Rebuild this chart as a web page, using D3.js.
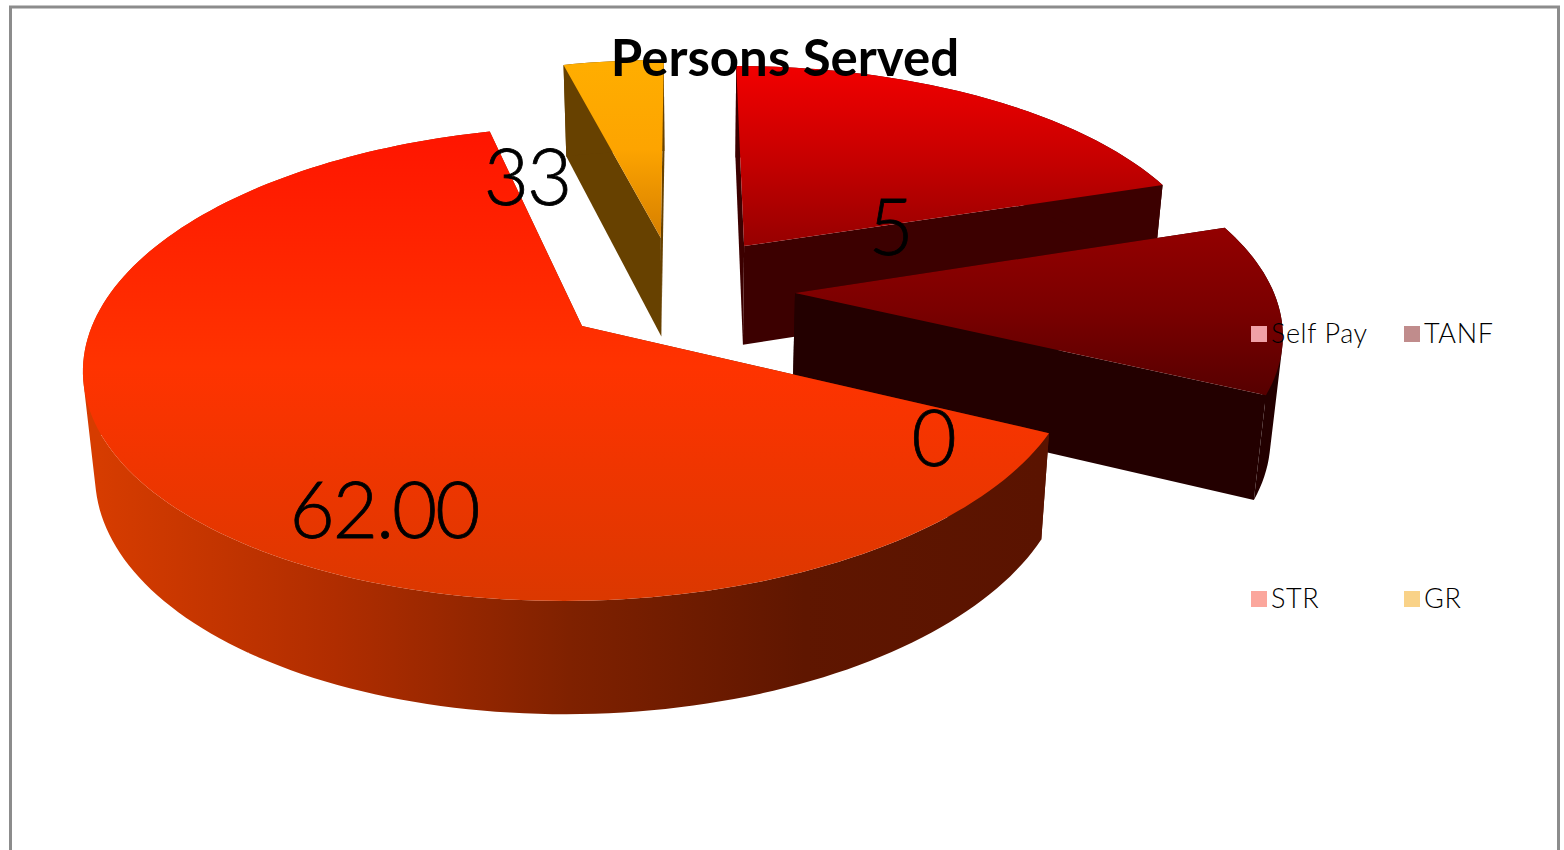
<!DOCTYPE html>
<html>
<head>
<meta charset="utf-8">
<script src="https://cdn.jsdelivr.net/npm/d3@7"></script>
<style>
html, body { margin: 0; padding: 0; background: #fff; overflow: hidden; }
text { font-family: Lato, "Open Sans", sans-serif; fill: #000; }
</style>
</head>
<body>
<svg id="vis"></svg>
<script>
// legend order, clockwise from 12 o'clock
const categories = ['Self Pay', 'TANF', 'STR', 'GR'];
// slice sizes (percent), the printed labels do not match them
const slice_shares = [20, 12.1, 63.9, 4.0];
const data_labels = ['5', '0', '62.00', '33'];
// how far each slice is pulled out, in pie radii
const explode_x = [0.338, 0.44, 0, 0.158];
const explode_y = [-0.365, -0.146, 0, -0.404];

const legend_colours = ['#f0a0a6', '#c08c8c', '#fba69c', '#f9d288'];
const top_colours = [['#f20000', '#c80000', '#960000'], ['#930000', '#7a0000', '#560000'], ['#ff1500', '#ff3300', '#db3800'], ['#ffae00', '#fda400', '#d67f00']];
const wall_colours = ['#3c0000', '#230000', '#6b1c00', '#674100'];

var width = 1564;
var height = 850;
var persp = 0.158;
var shear = -16; // the camera sits a little to the right of the pie

// top and bottom faces of the pie, unit disc to screen
var x_top = d3.scaleLinear().domain([0, 1]).range([582, 1072]);
var y_top = d3.scaleLinear().domain([0, 1]).range([326, 557.5]);
var x_bottom = d3.scaleLinear().domain([0, 1]).range([584, 1064]);
var y_bottom = d3.scaleLinear().domain([0, 1]).range([428, 669]);

function project(p, x_scale, y_scale) {
    var s = 1 / (1 - persp * p[1]);
    return [x_scale(p[0] * s) + shear * p[1] * s, y_scale(p[1] * s)];
}

function rimPoints(slice, i) {
    var n = Math.max(2, Math.ceil((slice.endAngle - slice.startAngle) * 40));
    return d3.range(n + 1).map(function(k) {
        var a = slice.startAngle + (slice.endAngle - slice.startAngle) * k / n;
        return [explode_x[i] + Math.sin(a), explode_y[i] - Math.cos(a)];
    });
}

// all quads in one path, wound the same way, so the wall does not cancel itself where it folds over
function drawWall(g, points, line, fill) {
    var d = d3.pairs(points).map(function(pair) {
        var quad = [
            project(pair[0], x_top, y_top),
            project(pair[1], x_top, y_top),
            project(pair[1], x_bottom, y_bottom),
            project(pair[0], x_bottom, y_bottom)
        ];
        if (d3.polygonArea(quad) < 0) {
            quad.reverse();
        }
        return line(quad) + 'Z';
    }).join('');
    g.append('path').attr('d', d).attr('fill', fill);
}

function makeGradient(defs, id, colours, x1, x2, y1, y2) {
    var grad = defs.append('linearGradient').attr('id', id)
        .attr('gradientUnits', 'userSpaceOnUse')
        .attr('x1', x1).attr('x2', x2).attr('y1', y1).attr('y2', y2);
    colours.forEach(function(c, k) {
        grad.append('stop').attr('offset', k / (colours.length - 1)).attr('stop-color', c);
    });
}

function drawSlice(svg, defs, slice, i, line) {
    var g = svg.append('g').attr('class', 'slice').attr('id', 'slice' + i);
    var apex = [explode_x[i], explode_y[i]];
    var rim = rimPoints(slice, i);
    var wall_fill = wall_colours[i];

    if (categories[i] == 'STR') {
        makeGradient(defs, 'strWall', ['#d63c00', '#b02d00', '#7f2100', '#5f1600', '#5a1300'], 100, 1040, 0, 0);
        wall_fill = 'url(#strWall)';
    }

    drawWall(g, [apex, rim[0]], line, wall_fill);
    drawWall(g, [apex, rim[rim.length - 1]], line, wall_fill);
    drawWall(g, rim, line, wall_fill);

    var face = [apex].concat(rim).map(function(p) { return project(p, x_top, y_top); });
    var ys = face.map(function(p) { return p[1]; });
    makeGradient(defs, 'top' + i, top_colours[i], 0, 0, d3.min(ys), d3.max(ys));
    g.append('path').attr('d', line(face) + 'Z').attr('fill', 'url(#top' + i + ')');
}

function drawLegend(svg) {
    var legend_x = d3.scalePoint().domain([0, 1]).range([1251, 1404]);
    var legend_y = d3.scalePoint().domain([0, 1]).range([334, 599]);
    categories.forEach(function(name, i) {
        var col = i % 2;
        var row = Math.floor(i / 2);
        svg.append('rect')
            .attr('x', legend_x(col)).attr('y', legend_y(row) - 8)
            .attr('width', 16).attr('height', 16)
            .attr('fill', legend_colours[i]);
        svg.append('text')
            .attr('x', legend_x(col) + 20).attr('y', legend_y(row) + 9)
            .attr('font-size', 27).attr('font-weight', 300)
            .attr('letter-spacing', 0.6)
            .text(name);
    });
}

function showVisualisation() {
    var svg = d3.select('#vis').attr('width', width).attr('height', height);
    var defs = svg.append('defs');
    var line = d3.line();

    svg.append('path')
        .attr('d', 'M10.5,' + height + 'V7H1558.5V' + height)
        .attr('fill', 'none').attr('stroke', '#8c8c8c').attr('stroke-width', 3);

    var slices = d3.pie().sort(null).value(function(d) { return d; })(slice_shares);
    // back to front
    [3, 0, 1, 2].forEach(function(i) {
        drawSlice(svg, defs, slices[i], i, line);
    });

    svg.append('text')
        .attr('x', 785).attr('y', 76).attr('text-anchor', 'middle')
        .attr('font-size', 51).attr('font-weight', 700)
        .text('Persons Served');

    var label_x = [890, 933, 384, 527];
    var label_y = [255, 466, 538, 205];
    data_labels.forEach(function(t, i) {
        svg.append('text')
            .attr('x', label_x[i]).attr('y', label_y[i]).attr('text-anchor', 'middle')
            .attr('font-size', 78).attr('font-weight', 300)
            .attr('letter-spacing', -2)
            .attr('stroke', '#000').attr('stroke-width', 0.8)
            .text(t);
    });

    drawLegend(svg);
}

showVisualisation();
</script>
</body>
</html>
